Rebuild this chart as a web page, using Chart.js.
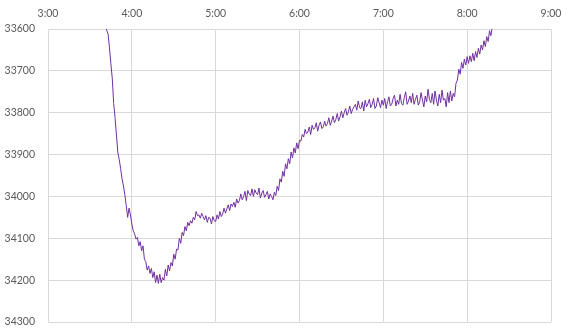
<!DOCTYPE html>
<html>
<head>
<meta charset="utf-8">
<script src="https://cdn.jsdelivr.net/npm/chart.js@4.4.1/dist/chart.umd.min.js"></script>
<style>
html,body{margin:0;padding:0;background:#fff;}
#c{display:block;}
</style>
</head>
<body>
<canvas id="c" width="569" height="333"></canvas>
<script>
// Time axis labels (minutes after midnight: 3:00 .. 9:00)
const xTickLabels = ["3:00","4:00","5:00","6:00","7:00","8:00","9:00"];
const xMinMinute = 180;
const xMaxMinute = 540;
const yTickValues = [33600,33700,33800,33900,34000,34100,34200,34300];

// One reading per minute, starting at 3:40
const startMinute = 220;
const readings = [
  33560, 33586, 33603, 33612, 33645, 33683, 33718, 33778, 33812, 33853,
  33896, 33912, 33934, 33958, 33975, 33996, 34022, 34050, 34028, 34044,
  34066, 34082, 34090, 34102, 34098, 34118, 34108, 34130, 34118, 34150,
  34156, 34176, 34166, 34184, 34172, 34194, 34180, 34206, 34188, 34208,
  34186, 34206, 34194, 34200, 34174, 34190, 34164, 34178, 34158, 34166,
  34138, 34150, 34126, 34128, 34100, 34112, 34086, 34094, 34072, 34082,
  34062, 34070, 34058, 34064, 34050, 34056, 34036, 34046, 34044, 34052,
  34040, 34048, 34056, 34046, 34062, 34050, 34052, 34066, 34048, 34058,
  34060, 34044, 34054, 34036, 34048, 34042, 34028, 34040, 34030, 34020,
  34034, 34018, 34024, 34014, 34026, 34006, 34016, 34010, 33994, 34008,
  34000, 33988, 34010, 33986, 33994, 33998, 33982, 34000, 33984, 33992,
  33996, 33980, 34004, 33992, 33986, 34002, 33996, 33988, 34006, 33994,
  34000, 34008, 33990, 33998, 33976, 33986, 33958, 33966, 33940, 33952,
  33922, 33934, 33910, 33922, 33894, 33908, 33884, 33896, 33872, 33886,
  33866, 33868, 33852, 33858, 33840, 33850, 33846, 33834, 33852, 33830,
  33840, 33836, 33824, 33844, 33830, 33822, 33838, 33834, 33820, 33832,
  33826, 33812, 33830, 33820, 33808, 33824, 33816, 33802, 33820, 33810,
  33796, 33812, 33800, 33790, 33806, 33798, 33784, 33802, 33792, 33786,
  33780, 33794, 33772, 33788, 33790, 33774, 33796, 33770, 33786, 33778,
  33768, 33788, 33780, 33766, 33790, 33784, 33764, 33776, 33788, 33770,
  33782, 33766, 33790, 33774, 33762, 33784, 33780, 33766, 33758, 33784,
  33770, 33780, 33756, 33778, 33782, 33764, 33750, 33780, 33772, 33760,
  33776, 33754, 33780, 33768, 33758, 33782, 33774, 33752, 33770, 33786,
  33760, 33774, 33744, 33768, 33776, 33754, 33780, 33748, 33770, 33784,
  33756, 33776, 33746, 33770, 33766, 33786, 33752, 33776, 33748, 33772,
  33754, 33762, 33730, 33722, 33696, 33708, 33680, 33694, 33672, 33686,
  33666, 33682, 33664, 33678, 33658, 33676, 33654, 33668, 33646, 33660,
  33638, 33650, 33628, 33642, 33618, 33630, 33604, 33616, 33594, 33598,
  33580
];

const points = readings.map((v, i) => ({ x: startMinute + i, y: v }));

const textColor = '#595959';
const gridColor = '#d9d9d9';
const font = { family: 'Lato, "Open Sans", sans-serif', size: 10.5 };

new Chart(document.getElementById('c'), {
  type: 'line',
  data: {
    datasets: [{
      data: points,
      borderColor: '#7030A0',
      borderWidth: 1,
      pointRadius: 0,
      tension: 0,
      fill: false
    }]
  },
  options: {
    responsive: false,
    maintainAspectRatio: false,
    animation: false,
    events: [],
    layout: { padding: { left: 0, top: 0, right: 18, bottom: 11 } },
    plugins: { legend: { display: false }, tooltip: { enabled: false } },
    scales: {
      x: {
        type: 'linear',
        position: 'top',
        min: xMinMinute,
        max: xMaxMinute,
        afterFit: s => { s.height = 29; s.paddingLeft = 0; s.paddingRight = 0; },
        afterBuildTicks: s => { s.ticks = xTickLabels.map((_, i) => ({ value: xMinMinute + 60 * i })); },
        ticks: {
          color: textColor,
          font: font,
          padding: 9,
          maxRotation: 0,
          autoSkip: false,
          callback: v => xTickLabels[Math.round((v - xMinMinute) / 60)]
        },
        grid: { color: gridColor, lineWidth: 1, drawTicks: false },
        border: { color: gridColor, width: 1 }
      },
      y: {
        reverse: true,
        min: yTickValues[0],
        max: yTickValues[yTickValues.length - 1],
        afterFit: s => { s.width = 48; s.paddingTop = 0; s.paddingBottom = 0; },
        afterBuildTicks: s => { s.ticks = yTickValues.map(v => ({ value: v })); },
        ticks: {
          color: textColor,
          font: font,
          padding: 13,
          callback: v => String(v)
        },
        grid: { color: gridColor, lineWidth: 1, drawTicks: false },
        border: { color: gridColor, width: 1 }
      }
    }
  }
});
</script>
</body>
</html>
